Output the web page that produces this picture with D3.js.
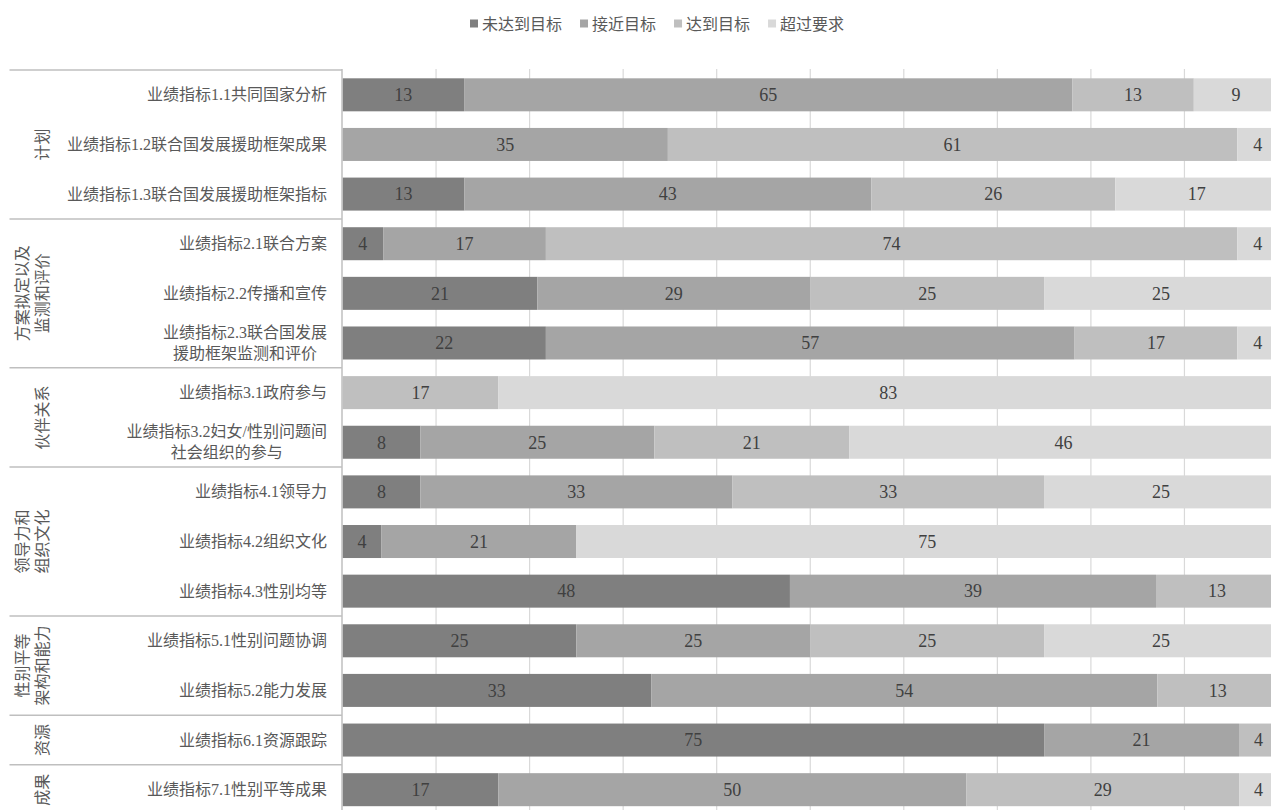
<!DOCTYPE html>
<html>
<head>
<meta charset="utf-8">
<script src="https://cdn.jsdelivr.net/npm/d3@7"></script>
<style>
  html, body { margin: 0; padding: 0; background: #ffffff; }
  svg { display: block; }
</style>
</head>
<body>
<svg id="chart" width="1271" height="810"></svg>
<script>
// Performance indicator categories (lines split with "\n")
const categories = [
  "业绩指标1.1共同国家分析",
  "业绩指标1.2联合国发展援助框架成果",
  "业绩指标1.3联合国发展援助框架指标",
  "业绩指标2.1联合方案",
  "业绩指标2.2传播和宣传",
  "业绩指标2.3联合国发展\n援助框架监测和评价",
  "业绩指标3.1政府参与",
  "业绩指标3.2妇女/性别问题间\n社会组织的参与",
  "业绩指标4.1领导力",
  "业绩指标4.2组织文化",
  "业绩指标4.3性别均等",
  "业绩指标5.1性别问题协调",
  "业绩指标5.2能力发展",
  "业绩指标6.1资源跟踪",
  "业绩指标7.1性别平等成果"
];

// Outer grouping of the indicators
const groupNames = [
  "计划",
  "方案拟定以及\n监测和评价",
  "伙伴关系",
  "领导力和\n组织文化",
  "性别平等\n架构和能力",
  "资源",
  "成果"
];
const groupSizes = [3, 3, 2, 3, 2, 1, 1];

// Rating series (percent of entities; labels show whole percents)
const seriesNames = ["未达到目标", "接近目标", "达到目标", "超过要求"];
const notMet      = [13,     0, 13.04,  4.35, 20.83, 21.74,     0,  8.33,  8.33,  4.17, 47.83, 25, 33.0,  75,    16.67];
const approaching = [65, 34.78, 43.48, 17.39, 29.17, 56.52,     0, 25,    33.33, 20.83, 39.13, 25, 54.1,  20.83, 50];
const met         = [13, 60.87, 26.09, 73.91, 25,    17.39, 16.67, 20.83, 33.33,  0,    13.04, 25, 12.9,   4.17, 29.17];
const exceeds     = [ 9,  4.35, 17.39,  4.35, 25,     4.35, 83.33, 45.83, 25,    75,     0,    25,  0,     0,     4.17];
const seriesValues = [notMet, approaching, met, exceeds];

const xTicks = [10, 20, 30, 40, 50, 60, 70, 80, 90, 100];

const colors = ["#7f7f7f", "#a5a5a5", "#bfbfbf", "#d9d9d9"];
const labelFont = "'Liberation Serif', 'Noto Sans CJK SC', serif";

const svg = d3.select("#chart");

// Scales
const x = d3.scaleLinear().domain([0, 100]).range([342.5, 1278]);
const y = d3.scaleBand()
  .domain(categories)
  .range([70, 814.5])
  .paddingInner(0.335)
  .paddingOuter(0.1675);

const bandTop = i => y.range()[0] + i * y.step();

// Vertical gridlines
svg.append("g")
  .selectAll("line")
  .data(xTicks)
  .join("line")
  .attr("x1", d => x(d))
  .attr("x2", d => x(d))
  .attr("y1", 69)
  .attr("y2", 810)
  .attr("stroke", "#d9d9d9")
  .attr("stroke-width", 1.2);

// Stacked data
const rows = categories.map((c, i) => {
  const o = { cat: c };
  seriesNames.forEach((s, k) => { o[s] = seriesValues[k][i]; });
  return o;
});
const stacked = d3.stack().keys(seriesNames)(rows);

const layers = svg.append("g")
  .selectAll("g")
  .data(stacked)
  .join("g")
  .attr("fill", (d, k) => colors[k]);

layers.selectAll("rect")
  .data(d => d.filter(p => p[1] - p[0] > 0))
  .join("rect")
  .attr("x", d => x(d[0]))
  .attr("width", d => x(d[1]) - x(d[0]))
  .attr("y", d => y(d.data.cat))
  .attr("height", y.bandwidth());

// Value labels centred in each segment, as whole percents
const fmt = d3.format(".0f");
layers.selectAll("text")
  .data(d => d.filter(p => p[1] - p[0] > 0))
  .join("text")
  .attr("x", d => (x(d[0]) + x(d[1])) / 2)
  .attr("y", d => y(d.data.cat) + y.bandwidth() / 2)
  .attr("dy", "0.35em")
  .attr("text-anchor", "middle")
  .attr("font-family", labelFont)
  .attr("font-size", 18)
  .attr("fill", "#404040")
  .text(d => fmt(d[1] - d[0]));

// Category axis line
svg.append("line")
  .attr("x1", 342).attr("x2", 342)
  .attr("y1", 69).attr("y2", 810)
  .attr("stroke", "#bfbfbf")
  .attr("stroke-width", 1.5);

// Group separators
const boundaries = [0];
groupSizes.reduce((acc, n) => { boundaries.push(acc + n); return acc + n; }, 0);
svg.append("g")
  .selectAll("line")
  .data(boundaries.slice(0, -1))
  .join("line")
  .attr("x1", 9.5).attr("x2", 342)
  .attr("y1", d => bandTop(d))
  .attr("y2", d => bandTop(d))
  .attr("stroke", "#bfbfbf")
  .attr("stroke-width", 1.5);

// Indicator labels (right-aligned block, multi-line centred)
const catG = svg.append("g")
  .attr("font-family", labelFont)
  .attr("font-size", 16)
  .attr("fill", "#595959");

categories.forEach(c => {
  const lines = c.split("\n");
  const cy = y(c) + y.bandwidth() / 2;
  const lh = 21;
  const t = catG.append("text")
    .attr("text-anchor", "middle");
  lines.forEach((ln, j) => {
    t.append("tspan")
      .attr("y", cy + (j - (lines.length - 1) / 2) * lh)
      .attr("dy", "0.35em")
      .text(ln);
  });
  // width of the widest line, to right-align the block at x = 327
  let w = 0;
  t.selectAll("tspan").each(function () { w = Math.max(w, this.getComputedTextLength()); });
  t.selectAll("tspan").attr("x", 327 - w / 2);
});

// Group labels, rotated
const grpG = svg.append("g")
  .attr("font-family", labelFont)
  .attr("font-size", 16)
  .attr("fill", "#595959");

groupNames.forEach((g, i) => {
  const top = bandTop(boundaries[i]);
  const bottom = bandTop(boundaries[i + 1]);
  const cy = (top + bottom) / 2;
  const lines = g.split("\n");
  lines.forEach((ln, j) => {
    const cx = 42 - (lines.length - 1 - j) * 19.5;
    grpG.append("text")
      .attr("transform", `translate(${cx},${cy}) rotate(-90)`)
      .attr("text-anchor", "middle")
      .attr("dy", "0.35em")
      .text(ln);
  });
});

// Legend
const legend = svg.append("g")
  .attr("font-family", labelFont)
  .attr("font-size", 16)
  .attr("fill", "#595959");
let lx = 470;
seriesNames.forEach((s, k) => {
  legend.append("rect")
    .attr("x", lx).attr("y", 19.5)
    .attr("width", 8).attr("height", 8)
    .attr("fill", colors[k]);
  const t = legend.append("text")
    .attr("x", lx + 12)
    .attr("y", 24.5)
    .attr("dy", "0.35em")
    .text(s);
  lx += 12 + t.node().getComputedTextLength() + 18;
});
</script>
</body>
</html>
